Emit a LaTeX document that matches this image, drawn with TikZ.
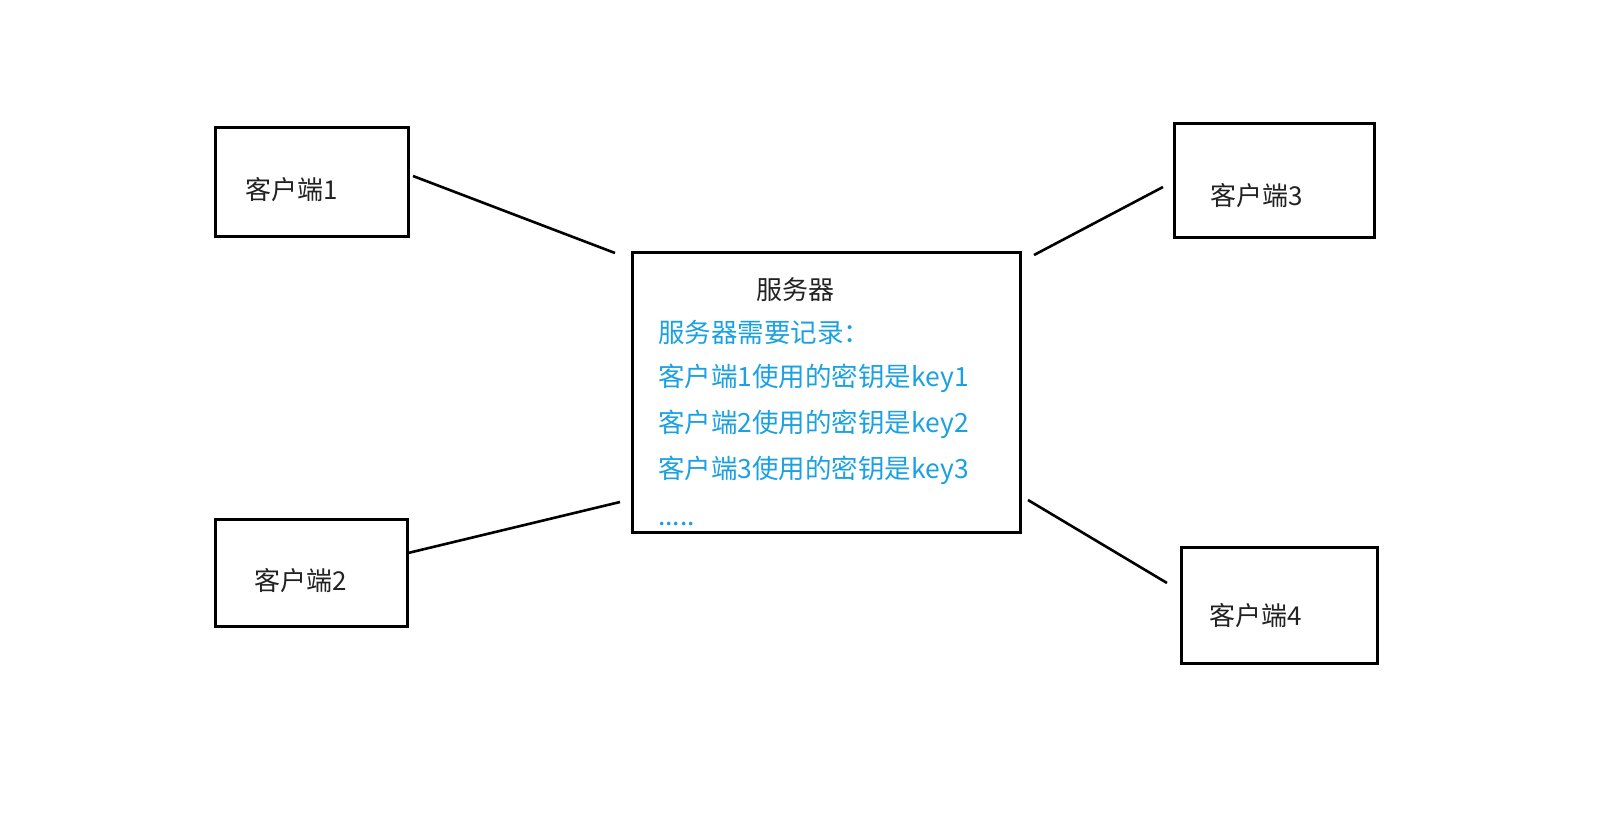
\documentclass[tikz,border=0pt]{standalone}
\usepackage{fontspec}
\setmainfont{Noto Sans CJK SC}
\definecolor{keyblue}{HTML}{1BA1E2}
\definecolor{txtgray}{HTML}{222222}
\tikzset{
  box/.style={draw=black, line width=3pt, inner sep=0pt},
  lbl/.style={anchor=west, inner sep=0pt, font=\fontsize{26}{30}\selectfont, text=txtgray},
  keyline/.style={anchor=west, inner sep=0pt, font=\fontsize{26.5}{30}\selectfont, text=keyblue},
  link/.style={draw=black, line width=2.6pt}
}
\begin{document}
\begin{tikzpicture}[x=1pt,y=-1pt]
\useasboundingbox (0,0) rectangle (1610,823);
% boxes
\node[box, minimum width=193pt, minimum height=109pt] (c1) at (311.5,181.5) {};
\node[box, minimum width=192pt, minimum height=107pt] (c2) at (311,572.5) {};
\node[box, minimum width=200pt, minimum height=114pt] (c3) at (1274,180) {};
\node[box, minimum width=196pt, minimum height=116pt] (c4) at (1279,605) {};
\node[box, minimum width=388pt, minimum height=280pt] (srv) at (826,392) {};
% client labels
\node[lbl] (t1) at (245,190) {客户端1};
\node[lbl] (t2) at (254,581) {客户端2};
\node[lbl] (t3) at (1210,196) {客户端3};
\node[lbl] (t4) at (1209,616) {客户端4};
% server texts
\node[lbl, anchor=center] (st) at (795,290) {服务器};
\node[keyline] (k0) at (658,332) {服务器需要记录：};
\node[keyline] (k1) at (658,378) {客户端1使用的密钥是key1};
\node[keyline] (k2) at (658,424) {客户端2使用的密钥是key2};
\node[keyline] (k3) at (658,470) {客户端3使用的密钥是key3};
\node[keyline] (k4) at (658,524) {.....};
% connector end points
\coordinate (a1) at (413,176);
\coordinate (b1) at (615,253);
\coordinate (a2) at (408,553);
\coordinate (b2) at (620,502);
\coordinate (a3) at (1163,187);
\coordinate (b3) at (1034,255);
\coordinate (a4) at (1167,583);
\coordinate (b4) at (1028,500);
\draw[link] (a1) -- (b1);
\draw[link] (a2) -- (b2);
\draw[link] (a3) -- (b3);
\draw[link] (a4) -- (b4);
\end{tikzpicture}
\end{document}
